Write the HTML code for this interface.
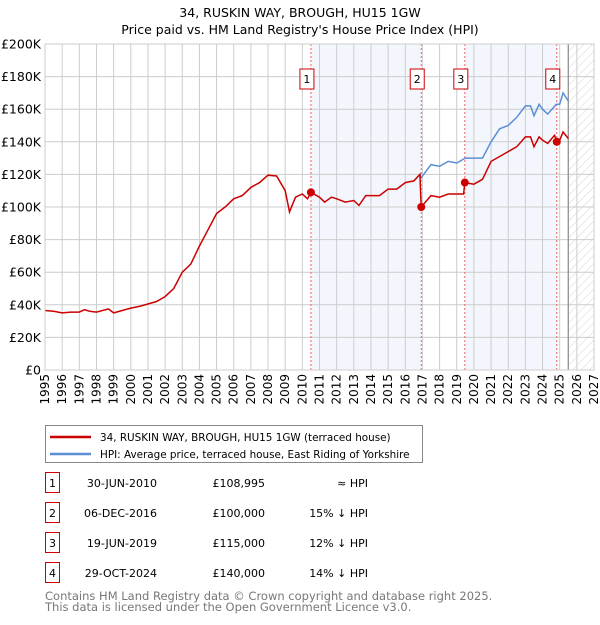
<!DOCTYPE html>
<html><head><meta charset="utf-8"><style>
body{margin:0;background:#fff;font-family:"Liberation Sans","DejaVu Sans",sans-serif;}
svg text{font-family:"DejaVu Sans","Liberation Sans",sans-serif;}
</style></head><body>
<svg id="c" width="600" height="620" xmlns="http://www.w3.org/2000/svg">
<defs><pattern id="hatch" width="6" height="6" patternUnits="userSpaceOnUse" patternTransform="rotate(45)"><line x1="0" y1="0" x2="0" y2="6" stroke="#d4d4d4" stroke-width="1"/></pattern></defs>
<text x="300" y="17" text-anchor="middle" font-size="12.5">34, RUSKIN WAY, BROUGH, HU15 1GW</text>
<text x="300" y="34" text-anchor="middle" font-size="12.5">Price paid vs. HM Land Registry's House Price Index (HPI)</text>
<g id="plot"></g>
<g>
<rect x="45.5" y="425.5" width="377" height="37" fill="#fff" stroke="#888"/>
<line x1="50" y1="437" x2="91" y2="437" stroke="#cc0000" stroke-width="2.5"/>
<text x="100" y="441" font-size="10.4">34, RUSKIN WAY, BROUGH, HU15 1GW (terraced house)</text>
<line x1="50" y1="454" x2="91" y2="454" stroke="#5b8fd4" stroke-width="2.5"/>
<text x="100" y="458" font-size="10.4">HPI: Average price, terraced house, East Riding of Yorkshire</text>
</g>
<g id="table"></g>
<text x="45" y="600" font-size="11.5" fill="#777">Contains HM Land Registry data © Crown copyright and database right 2025.</text>
<text x="45" y="611" font-size="11.5" fill="#777">This data is licensed under the Open Government Licence v3.0.</text>
</svg>
<script>
const redYears=[1995,1995.5,1996,1996.5,1997,1997.3,1997.6,1998,1998.7,1999,1999.5,2000,2000.5,2001,2001.5,2002,2002.5,2003,2003.5,2004,2004.5,2005,2005.5,2006,2006.5,2007,2007.5,2008,2008.5,2009,2009.25,2009.6,2010,2010.3,2010.5,2011,2011.3,2011.7,2012,2012.5,2013,2013.3,2013.7,2014,2014.5,2015,2015.5,2016,2016.5,2016.85,2016.93,2017.5,2018,2018.5,2019,2019.4,2019.47,2020,2020.5,2021,2021.5,2022,2022.5,2023,2023.3,2023.5,2023.8,2024,2024.3,2024.7,2024.83,2025,2025.2,2025.5];
const redVals=[36.5,36,35,35.5,35.5,37,36,35.5,37.5,35,36.5,38,39,40.5,42,45,50,60,65,76,86,96,100,105,107,112,115,119.5,119,110,97,106,108,105,109,106,103,106,105,103,104,101,107,107,107,111,111,115,116,120,100,107,106,108,108,108,115,114,117,128,131,134,137,143,143,137,143,141,139,144,140,141,146,142];
const hpiYears=[2016.85,2016.93,2017.5,2018,2018.5,2019,2019.5,2020,2020.5,2021,2021.5,2022,2022.5,2023,2023.3,2023.5,2023.8,2024,2024.3,2024.8,2025,2025.2,2025.5];
const hpiVals=[120,118,126,125,128,127,130,130,130,140,148,150,155,162,162,156,163,160,157,163,163,170,165];
const saleYears=[2010.5,2016.93,2019.47,2024.83];
const saleVals=[108.995,100,115,140];
const saleLabels=["1","2","3","4"];
const saleDates=["30-JUN-2010","06-DEC-2016","19-JUN-2019","29-OCT-2024"];
const salePrices=["£108,995","£100,000","£115,000","£140,000"];
const saleHpi=["≈ HPI","15% ↓ HPI","12% ↓ HPI","14% ↓ HPI"];
const yTicks=[0,20,40,60,80,100,120,140,160,180,200];
const yTickLabels=["£0","£20K","£40K","£60K","£80K","£100K","£120K","£140K","£160K","£180K","£200K"];
const X0=45,X1=594,Y0=370,Y1=44;
const x=v=>X0+(v-1995)*(X1-X0)/32;
const y=v=>Y0-v*(Y0-Y1)/200;
const NS="http://www.w3.org/2000/svg";
const plot=document.getElementById('plot');
function mk(t,a,p){const e=document.createElementNS(NS,t);for(const k in a)e.setAttribute(k,a[k]);(p||plot).appendChild(e);return e;}
let r;
r=mk('rect',{x:x(saleYears[0]),y:Y1,width:x(saleYears[1])-x(saleYears[0]),height:Y0-Y1,fill:'#eef3fc',opacity:0.7});


r=mk('rect',{x:x(saleYears[2]),y:Y1,width:x(saleYears[3])-x(saleYears[2]),height:Y0-Y1,fill:'#eef3fc',opacity:0.7});


r=mk('rect',{x:x(2025.5),y:Y1,width:X1-x(2025.5),height:Y0-Y1,fill:'url(#hatch)'});


for(let yr=1995;yr<=2027;yr++){
 const l=mk('line',{x1:x(yr),x2:x(yr),y1:Y1,y2:Y0,stroke:'#ccc','stroke-width':1});
 
 
 const t=mk('text',{x:0,y:0,'font-size':12,'text-anchor':'end',transform:`translate(${x(yr)+4},${Y0+4}) rotate(-90)`});
 t.textContent=yr;
 
 
}
yTicks.forEach((v,i)=>{
 const l=mk('line',{x1:X0,x2:X1,y1:y(v),y2:y(v),stroke:'#ccc','stroke-width':1});
 
 
 const t=mk('text',{x:X0-4,y:y(v)+4.5,'font-size':12.5,'text-anchor':'end'});
 t.textContent=yTickLabels[i];
 
 
});
r=mk('line',{x1:x(2025.5),x2:x(2025.5),y1:Y1,y2:Y0,stroke:'#888','stroke-width':1.2});


saleYears.forEach((s,i)=>{
 const l=mk('line',{x1:x(s),x2:x(s),y1:Y1,y2:Y0,stroke:'#f06060','stroke-width':1,'stroke-dasharray':'2,2'});
 
 
});
let hp=hpiYears.map((v,i)=>x(v).toFixed(1)+','+y(hpiVals[i]).toFixed(1)).join(' ');
r=mk('polyline',{points:hp,fill:'none',stroke:'#5b8fd4','stroke-width':1.5});


let rp=redYears.map((v,i)=>x(v).toFixed(1)+','+y(redVals[i]).toFixed(1)).join(' ');
r=mk('polyline',{points:rp,fill:'none',stroke:'#cc0000','stroke-width':1.5});


saleYears.forEach((s,i)=>{
 const c=mk('circle',{cx:x(s),cy:y(saleVals[i]),r:4,fill:'#cc0000'});
 
 
 const b=mk('rect',{x:x(s)-11,y:69,width:14,height:20,fill:'#fff',stroke:'#cc0000'});
 
 
 const t=mk('text',{x:x(s)-4,y:83,'font-size':11,'text-anchor':'middle'});
 t.textContent=saleLabels[i];
 
 
});
r=mk('rect',{x:X0,y:Y1,width:X1-X0,height:Y0-Y1,fill:'none',stroke:'#ccc'});
const tb=document.getElementById('table');
saleLabels.forEach((s,i)=>{
 const yy=483+i*30;
 const b=mk('rect',{x:45.5,y:yy-10.5,width:14,height:20,fill:'#fff',stroke:'#cc0000'},tb);
 
 
 const cells=[[52.5,s,'middle'],[157,saleDates[i],'end'],[265,salePrices[i],'end'],[368,saleHpi[i],'end']];
 cells.forEach(c=>{const t=mk('text',{x:c[0],y:yy+4,'font-size':11,'text-anchor':c[2]},tb);t.textContent=c[1];
 
 });
});
</script>
</body></html>
